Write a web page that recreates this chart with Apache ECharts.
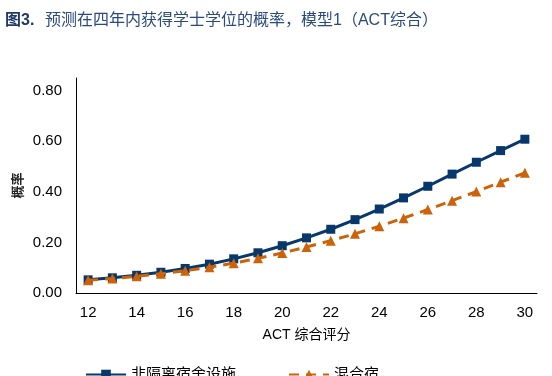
<!DOCTYPE html>
<html>
<head>
<meta charset="utf-8">
<script src="https://cdn.jsdelivr.net/npm/echarts@6/dist/echarts.min.js"></script>
<style>
html,body{margin:0;padding:0;background:#fff;}
#main{width:552px;height:376px;}
</style>
</head>
<body>
<div id="main"></div>
<script>
var actScores = ['12','13','14','15','16','17','18','19','20','21','22','23','24','25','26','27','28','29','30'];
var nonDorm = [0.052,0.060,0.070,0.082,0.097,0.114,0.135,0.159,0.187,0.218,0.252,0.290,0.332,0.376,0.422,0.470,0.517,0.563,0.608];
var dorm = [0.050,0.057,0.066,0.076,0.088,0.102,0.118,0.137,0.158,0.182,0.207,0.234,0.264,0.296,0.330,0.365,0.401,0.438,0.475];
var seriesNames = ['非隔离宿舍设施', '混合宿'];

var chart = echarts.init(document.getElementById('main'));
var font = '"Liberation Sans", Arial, "Noto Sans CJK SC", sans-serif';
var option = {
	animation: false,
	title: {
		text: '{b|图3.}{t|预测在四年内获得学士学位的概率，模型1（ACT综合）}',
		left: 0,
		top: 8,
		textStyle: {
			fontFamily: font,
			fontSize: 16,
			fontWeight: 'normal',
			color: '#2a4a7c',
			rich: {
				b: {fontFamily: font, fontSize: 16, fontWeight: 'bold', color: '#1f3a66', width: 40},
				t: {fontFamily: font, fontSize: 16, color: '#2a4a7c'}
			}
		}
	},
	legend: {
		bottom: -11,
		left: 80,
		itemGap: 52,
		itemWidth: 40,
		itemHeight: 12,
		textStyle: {fontFamily: font, fontSize: 15, color: '#000'},
		data: seriesNames
	},
	grid: {left: 76, right: 15, top: 78, bottom: 83},
	xAxis: {
		type: 'category',
		data: actScores,
		boundaryGap: true,
		name: 'ACT 综合评分',
		nameLocation: 'middle',
		nameGap: 35,
		nameMoveOverlap: false,
		nameTextStyle: {fontFamily: font, fontSize: 14, color: '#000'},
		axisLine: {lineStyle: {color: '#000', width: 1}},
		axisTick: {show: false},
		axisLabel: {interval: 1, fontFamily: font, fontSize: 15, color: '#000', margin: 12}
	},
	yAxis: {
		type: 'value',
		min: 0,
		max: 0.85,
		interval: 0.2,
		name: '概率',
		nameLocation: 'middle',
		nameGap: 51,
		nameMoveOverlap: false,
		nameRotate: 90,
		nameTextStyle: {fontFamily: font, fontSize: 13, fontWeight: 'bold', color: '#222'},
		axisLine: {show: true, lineStyle: {color: '#000', width: 1}},
		axisTick: {show: false},
		splitLine: {show: false},
		axisLabel: {
			showMaxLabel: false,
			fontFamily: font, fontSize: 15, color: '#000', margin: 14,
			formatter: function (v) { return v > 0.81 ? '' : v.toFixed(2); }
		}
	},
	series: [
		{
			name: seriesNames[0],
			type: 'line',
			data: nonDorm,
			symbol: 'rect',
			symbolSize: 9,
			z: 2,
			itemStyle: {color: '#08386b'},
			lineStyle: {color: '#08386b', width: 3}
		},
		{
			name: seriesNames[1],
			type: 'line',
			data: dorm,
			symbol: 'triangle',
			symbolSize: 10,
			z: 3,
			itemStyle: {color: '#cc6209'},
			lineStyle: {color: '#cc6209', width: 3, type: [10, 7]}
		}
	]
};
chart.setOption(option);
</script>
</body>
</html>
